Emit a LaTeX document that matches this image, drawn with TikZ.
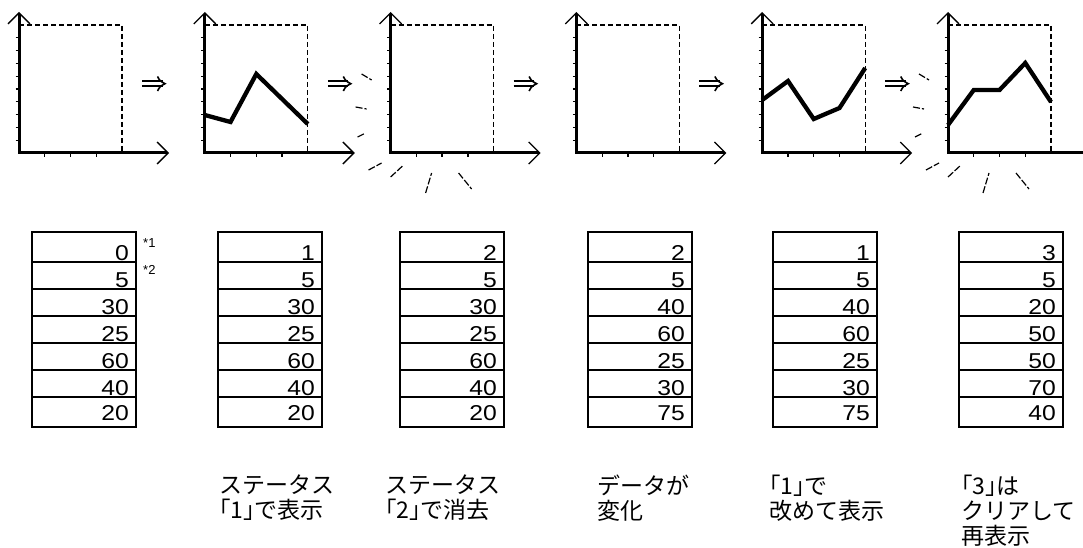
\documentclass[tikz,border=0pt]{standalone}
\usepackage{fontspec}
\setmainfont{Liberation Sans}
\newfontfamily\jpfont{Noto Sans CJK JP}
\usetikzlibrary{arrows.meta}

\tikzset{
  axis/.style={line width=3pt},
  axhead/.style={line width=1.3pt, -{Straight Barb[length=11pt, width=22pt]}},
  frame/.style={line width=1.3pt, dash pattern=on 5pt off 3pt},
  tick/.style={line width=1.3pt},
  dataline/.style={line width=4.3pt},
  flash/.style={line width=1.2pt, dash pattern=on 7pt off 2pt},
  go/.style={line width=1.6pt},
  tbl/.style={line width=2pt},
  sep/.style={line width=1.7pt},
  num/.style={anchor=base east, inner sep=0, font=\fontsize{21.5}{21.5}\selectfont},
  star/.style={anchor=base west, inner sep=0, font=\fontsize{13}{13}\selectfont},
  note/.style={anchor=north west, inner sep=0, align=left, font=\jpfont\fontsize{23}{25}\selectfont}
}
\newcommand{\wide}[1]{\scalebox{1.15}[1]{#1}}

\begin{document}
\begin{tikzpicture}[x=1pt, y=-1pt]
\useasboundingbox (0,0) rectangle (1083,548);

% charts
\foreach \ox in {19,204.8,390.6,576.4,762.2,948} {
  \draw[frame] (\ox,25) -- (\ox+103,25) -- (\ox+103,153);
  \foreach \k in {1,...,9} \draw[tick] (\ox-3.5,153-12.8*\k) -- (\ox,153-12.8*\k);
  \foreach \k in {1,2,3} \draw[tick] (\ox+25.75*\k,153) -- (\ox+25.75*\k,157.5);
  \draw[axis] (\ox,14) -- (\ox,153) -- (\ox+148,153);
  \draw[axhead] (\ox,60) -- (\ox,12);
  \draw[axhead] (\ox+110,153) -- (\ox+150,153);
}
\draw[dataline] (204.8,115) -- (230.5,122) -- (256.3,74) -- (307.8,124);
\draw[dataline] (762.2,100) -- (788,81) -- (813.7,119) -- (839.5,108) -- (865.2,68);
\draw[dataline] (948,125) -- (973.75,90) -- (999.5,90) -- (1025.25,63) -- (1051,102);

% flash
\foreach \ox in {390.6,948} {
  \draw[flash] (\ox-29,74) -- (\ox-19,80);
  \draw[flash] (\ox-35,107) -- (\ox-24,109);
  \draw[flash] (\ox-33,137) -- (\ox-25,133);
  \draw[flash] (\ox-22,170) -- (\ox-9,163);
  \draw[flash] (\ox,177) -- (\ox+13,165);
  \draw[flash] (\ox+35,193) -- (\ox+41,173);
  \draw[flash] (\ox+68,173) -- (\ox+81,189);
}

% arrows between charts
\foreach \gx in {153.5,339.3,525.1,710.9,896.7} {
  \draw[go] (\gx-11.5,81.2) -- (\gx+9,81.2) (\gx-11.5,86.2) -- (\gx+9,86.2);
  \draw[go] (\gx+4,76.5) .. controls (\gx+6.5,81) .. (\gx+11.5,83.7)
    .. controls (\gx+6.5,86.4) .. (\gx+4,91);
}

% tables
\foreach \L/\vals [count=\t] in {32/{0,5,30,25,60,40,20}, 218/{1,5,30,25,60,40,20},
    400/{2,5,30,25,60,40,20}, 588/{2,5,40,60,25,30,75},
    773/{1,5,40,60,25,30,75}, 959/{3,5,20,50,50,70,40}} {
  \draw[tbl] (\L,232) rectangle (\L+104,427);
  \foreach \s in {262,289,316,343,370,397} \draw[sep] (\L,\s) -- (\L+104,\s);
  \foreach \v [count=\r] in \vals
    \node[num] (c\t-\r) at (\L+97,{min(260+27*(\r-1),420)}) {\wide{\v}};
}
\node[star] (star1) at (143,247) {*1};
\node[star] (star2) at (143,274) {*2};

% labels
\node[note] (lab2) at (219,475) {ステータス\\｢1｣で表示};
\node[note] (lab3) at (385,475) {ステータス\\｢2｣で消去};
\node[note] (lab4) at (597,475) {データが\\変化};
\node[note] (lab5) at (769,475) {｢1｣で\\改めて表示};
\node[note] (lab6) at (961,475) {｢3｣は\\クリアして\\再表示};
\end{tikzpicture}
\end{document}
